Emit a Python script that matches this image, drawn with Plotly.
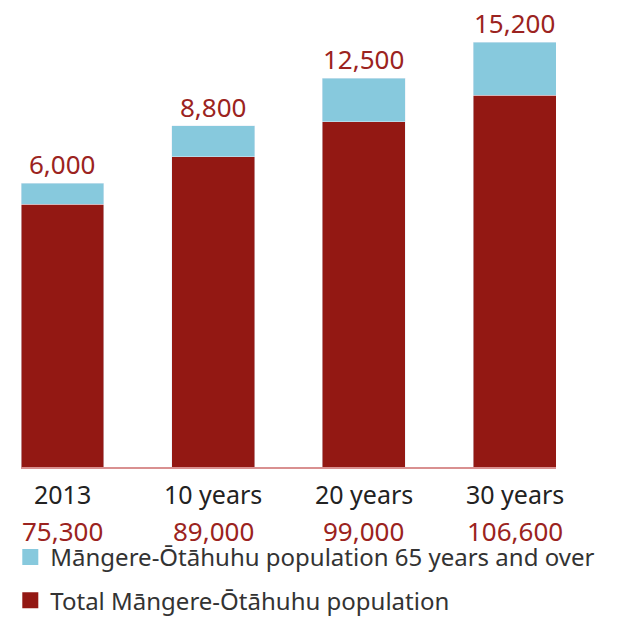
import plotly.graph_objects as go

categories = ["2013", "10 years", "20 years", "30 years"]
total_pop = [75300, 89000, 99000, 106600]
senior_pop = [6000, 8800, 12500, 15200]

RED = "#931813"
BLUE = "#87C9DD"
TXT_RED = "#9B2320"
FONT = "Noto Sans"

fig = go.Figure()
fig.add_trace(go.Bar(x=categories, y=total_pop, marker_color=RED, width=0.55,
                     showlegend=False, hoverinfo="skip"))
fig.add_trace(go.Bar(x=categories, y=senior_pop, marker_color=BLUE, width=0.55,
                     showlegend=False, hoverinfo="skip"))
# legend entries
fig.add_trace(go.Scatter(x=[None], y=[None], mode="markers",
                         marker=dict(symbol="square", size=16, color=BLUE),
                         name="Māngere-Ōtāhuhu population 65 years and over",
                         legendgroup="a"))
fig.add_trace(go.Scatter(x=[None], y=[None], mode="markers",
                         marker=dict(symbol="square", size=16, color=RED),
                         name="Total Māngere-Ōtāhuhu population",
                         legendgroup="b"))

annotations = []
for i, (c, t, s) in enumerate(zip(categories, total_pop, senior_pop)):
    annotations.append(dict(x=i, y=t + s, xref="x", yref="y", text=f"{s:,}",
                            showarrow=False, yanchor="bottom", yshift=2,
                            height=30, valign="middle",
                            font=dict(family=FONT, size=26, color=TXT_RED)))
    annotations.append(dict(x=i, y=0, xref="x", yref="paper", text=c,
                            showarrow=False, yanchor="middle", yshift=-27,
                            font=dict(family=FONT, size=25, color="#222222")))
    annotations.append(dict(x=i, y=0, xref="x", yref="paper", text=f"{t:,}",
                            showarrow=False, yanchor="middle", yshift=-64,
                            height=26, valign="middle",
                            font=dict(family=FONT, size=26, color=TXT_RED)))

fig.update_layout(
    width=612, height=609,
    margin=dict(l=13, r=64, t=9, b=150, autoexpand=False),
    barmode="stack",
    plot_bgcolor="white", paper_bgcolor="white",
    font=dict(family=FONT, size=25, color="#333333"),
    xaxis=dict(type="category", range=[-0.275, 3.275], showticklabels=False, ticks="",
               showline=True, linecolor="#D99090", linewidth=1.5, showgrid=False,
               zeroline=False, fixedrange=True),
    yaxis=dict(range=[0, 129000], visible=False, fixedrange=True),
    showlegend=True,
    legend=dict(x=-0.02, y=-0.151, xanchor="left", yanchor="top",
                traceorder="grouped", tracegroupgap=9,
                font=dict(family=FONT, size=24, color="#333333"),
                itemwidth=30, bgcolor="rgba(0,0,0,0)"),
    annotations=annotations,
)

fig.write_html("out.html")
